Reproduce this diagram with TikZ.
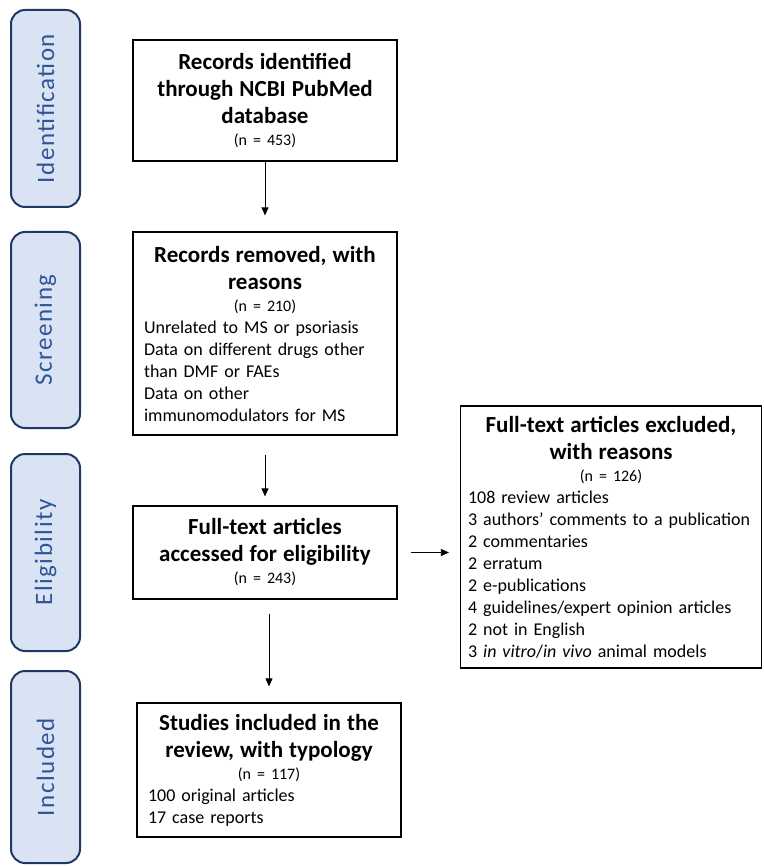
\documentclass[tikz,border=0pt]{standalone}
\usepackage{fontspec}
\setmainfont{Carlito}
\usetikzlibrary{arrows.meta}

\definecolor{tabfill}{HTML}{DAE3F3}
\definecolor{tabline}{HTML}{1F3864}
\definecolor{tabtext}{HTML}{2F5597}

\newcommand{\boxttl}[1]{{\centering\fontsize{23}{27}\selectfont\bfseries #1\par}}
\newcommand{\boxcnt}[1]{{\centering\fontsize{16}{22}\selectfont (n = #1)\par}}

\tikzset{
	phase/.style={draw=tabline, line width=2pt, fill=tabfill, rounded corners=14pt,
		minimum width=69pt, text=tabtext, font=\fontsize{25}{28}\selectfont\addfontfeatures{LetterSpace=6}},
	stage/.style={draw, line width=1.2pt, text width=242pt, align=left,
		inner xsep=11pt, inner ysep=7pt, font=\fontsize{18}{22}\selectfont},
	flow/.style={-{Triangle[length=8pt,width=7pt]}, line width=0.8pt}
}

\begin{document}
\begin{tikzpicture}[x={(1pt,0)},y={(0,-1pt)}]
	\useasboundingbox (0,0) rectangle (763,866);
	% phases on the left
	\node[phase, minimum height=197pt] (idf) at (45.5,108.5) {\rotatebox{90}{Identification}};
	\node[phase, minimum height=196pt] (scr) at (45.5,330) {\rotatebox{90}{Screening}};
	\node[phase, minimum height=197pt] (elg) at (45.5,552.5) {\rotatebox{90}{Eligibility}};
	\node[phase, minimum height=192pt] (inc) at (45.5,767) {\rotatebox{90}{Included}};
	
	% flow boxes
	\node[stage, minimum height=121pt] (rec) at (265,100.5) {
		\boxttl{Records identified\\through NCBI PubMed\\database}
		\boxcnt{453}
	};
	\node[stage, minimum height=203pt] (rem) at (265,333.5) {
		\boxttl{Records removed, with\\reasons}
		\boxcnt{210}
		Unrelated to MS or psoriasis\\
		Data on different drugs other\\
		than DMF or FAEs\\
		Data on other\\
		immunomodulators for MS
	};
	\node[stage, minimum height=93pt] (full) at (265,552.5) {
		\boxttl{Full-text articles\\accessed for eligibility}
		\boxcnt{243}
	};
	\node[stage, minimum height=134pt] (stud) at (269,770) {
		\boxttl{Studies included in the\\review, with typology}
		\boxcnt{117}
		100 original articles\\
		17 case reports
	};
	\node[stage, text width=286pt, inner xsep=7.5pt, inner ysep=4pt, minimum height=262pt] (excl) at (611,537) {
		\boxttl{Full-text articles excluded,\\with reasons}
		\boxcnt{126}
		108 review articles\\
		\mbox{3 authors’ comments to a publication}\\
		2 commentaries\\
		2 erratum\\
		2 e-publications\\
		4 guidelines/expert opinion articles\\
		2 not in English\\
		3 \textit{in vitro}/\textit{in vivo} animal models
	};
	
	\draw[flow, shorten >=16pt] (rec) -- (rem);
	\draw[flow, shorten <=19pt, shorten >=9pt] (rem) -- (full);
	\draw[flow, shorten <=14pt, shorten >=16pt] (full.south -| stud) -- (stud);
	\draw[flow, shorten <=13pt, shorten >=11pt] (full.east) -- (full.east -| excl.west);
	
\end{tikzpicture}
\end{document}
